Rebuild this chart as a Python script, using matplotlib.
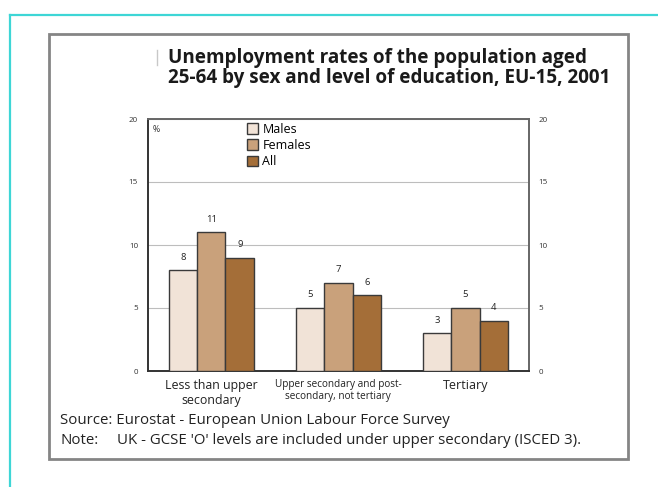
import numpy as np
import matplotlib.pyplot as plt
from matplotlib.patches import Rectangle, Patch
from matplotlib.lines import Line2D

plt.rcParams['font.family'] = ['Open Sans', 'DejaVu Sans']

categories = ["Less than upper\nsecondary",
              "Upper secondary and post-\nsecondary, not tertiary",
              "Tertiary"]
series = ["Males", "Females", "All"]
males = [8, 5, 3]
females = [11, 7, 5]
all_persons = [9, 6, 4]
yticks = [0, 5, 10, 15, 20]

colors = ["#F1E3D7", "#C9A17B", "#A46E38"]
edge = "#3a3a3a"

W, H = 658, 487
fig = plt.figure(figsize=(W / 100, H / 100), dpi=100)

def fx(px):
    return px / W

def fy(py):
    return 1 - py / H

# outer cyan frame and grey inner box
fig.add_artist(Line2D([fx(9.5), 1.0], [fy(15), fy(15)], color="#3ED6D6", lw=1.6))
fig.add_artist(Line2D([fx(9.5), fx(9.5)], [fy(15), 0.0], color="#3ED6D6", lw=1.6))
fig.add_artist(Rectangle((fx(49), fy(459)), fx(628) - fx(49), fy(34) - fy(459),
                         fill=False, ec="#858585", lw=2.0))
fig.add_artist(Line2D([fx(157), fx(157)], [fy(50), fy(65)], color="#c8c8c8", lw=1.0))

fig.text(fx(168), fy(58), "Unemployment rates of the population aged",
         fontsize=13.6, fontweight="bold", va="center", ha="left", color="#1a1a1a")
fig.text(fx(168), fy(78), "25-64 by sex and level of education, EU-15, 2001",
         fontsize=13.6, fontweight="bold", va="center", ha="left", color="#1a1a1a")

ax = fig.add_axes([fx(147.7), fy(371), fx(529) - fx(147.7), fy(119) - fy(371)])

x = np.arange(len(categories))
width = 0.224
for i, (vals, name) in enumerate(zip([males, females, all_persons], series)):
    pos = x + (i - 1) * width
    ax.bar(pos, vals, width, color=colors[i], edgecolor=edge, linewidth=1.0, zorder=3)
    for p, v in zip(pos, vals):
        ax.annotate(str(v), (p, v), xytext=(0, 9.5), textcoords="offset points",
                    ha="center", va="center", fontsize=6.8, color="#222222")

ax.set_xlim(-0.5, 2.5)
ax.set_ylim(0, 20)
ax.set_yticks(yticks)
ax.set_yticklabels([str(t) for t in yticks])
ax.grid(axis="y", color="#bdbdbd", lw=0.8, zorder=0)
ax.tick_params(axis="y", length=0, labelsize=5.8, pad=7, labelright=True, right=False,
               labelcolor="#333333")
ax.set_xticks(x)
ax.set_xticklabels(categories)
ax.tick_params(axis="x", length=0, pad=6, labelcolor="#222222")
sizes = [8.9, 7.2, 9]
spacing = [1.2, 1.1, 1.2]
for lab, s, ls in zip(ax.get_xticklabels(), sizes, spacing):
    lab.set_fontsize(s)
    lab.set_linespacing(ls)

for side in ["left", "bottom"]:
    ax.spines[side].set_color("#333333")
    ax.spines[side].set_linewidth(1.4)
for side in ["top", "right"]:
    ax.spines[side].set_color("#666666")
    ax.spines[side].set_linewidth(1.4)

ax.text(0.014, 0.976, "%", transform=ax.transAxes, fontsize=6.3, va="top", ha="left",
        color="#333333")

handles = [Patch(facecolor=c, edgecolor=edge, linewidth=1.0) for c in colors]
ax.legend(handles, series, loc="upper left", bbox_to_anchor=(0.26, 0.985),
          frameon=False, fontsize=9, handlelength=0.9, handleheight=0.9,
          labelspacing=0.25, handletextpad=0.35, borderpad=0, borderaxespad=0)

fig.text(fx(60), fy(421), "Source: Eurostat - European Union Labour Force Survey",
         fontsize=10.8, va="center", ha="left", color="#222222")
fig.text(fx(60), fy(440), "Note:", fontsize=10.8, va="center", ha="left", color="#222222")
fig.text(fx(117), fy(440), "UK - GCSE 'O' levels are included under upper secondary (ISCED 3).",
         fontsize=10.8, va="center", ha="left", color="#222222")

fig.savefig("out.png", dpi=100)
